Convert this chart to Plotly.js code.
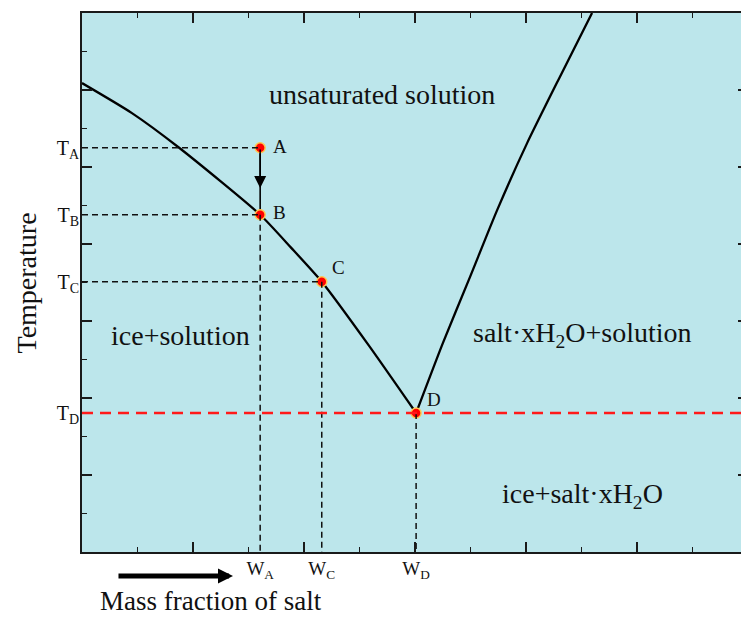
<!DOCTYPE html>
<html>
<head>
<meta charset="utf-8">
<script src="https://cdn.plot.ly/plotly-3.0.1.min.js"></script>
<style>
  html, body { margin: 0; padding: 0; overflow: hidden; background: #ffffff; }
  #chart { width: 750px; height: 617px; }
</style>
</head>
<body>
<div id="chart"></div>
<script>
// Phase diagram of a salt–water system (arbitrary units on both axes)

// Named points on the diagram
const pointNames = ['A', 'B', 'C', 'D'];
const pointW = [3.21, 3.21, 4.32, 6.02];   // mass fraction of salt
const pointT = [5.25, 4.38, 3.51, 1.805];  // temperature

// Ice liquidus (freezing-point curve), ending at the eutectic D
const iceLineW = [0, 0.9, 1.75, 3.21, 3.77, 4.32, 5.17, 6.02];
const iceLineT = [6.09, 5.70, 5.25, 4.38, 3.95, 3.51, 2.68, 1.805];

// Salt hydrate solubility curve, rising from D
const saltLineW = [6.02, 6.50, 6.99, 7.48, 8.02, 8.61, 9.19];
const saltLineT = [1.805, 2.71, 3.57, 4.44, 5.31, 6.17, 7.0];

// Axis ranges and labelled ticks
const wRange = [0, 12];
const tRange = [0, 7];
const wTickText = ['W<sub>A</sub>', 'W<sub>C</sub>', 'W<sub>D</sub>'];
const tTickText = ['T<sub>A</sub>', 'T<sub>B</sub>', 'T<sub>C</sub>', 'T<sub>D</sub>'];

// Region names
const regionNames = ['unsaturated solution', 'ice+solution',
  'salt\u00B7xH<sub>2</sub>O+solution', 'ice+salt\u00B7xH<sub>2</sub>O'];
const regionW = [5.41, 1.78, 9.01, 9.01];
const regionT = [5.94, 2.81, 2.82, 0.74];

const SERIF = 'Liberation Serif, Times New Roman, serif';
const [wA, wB, wC, wD] = pointW;
const [tA, tB, tC, tD] = pointT;

// Black dashed guide lines from the points to the axes
const guideX = [0, wA, null, 0, wB, null, 0, wC, null, wB, wB, null, wC, wC, null, wD, wD];
const guideY = [tA, tA, null, tB, tB, null, tC, tC, null, tB, 0, null, tC, 0, null, tD, 0];

const traces = [
  {
    x: guideX, y: guideY, xaxis: 'x2', yaxis: 'y2',
    mode: 'lines', line: { color: '#111', width: 1.5, dash: '6px,4px' },
    hoverinfo: 'skip', showlegend: false
  },
  {
    // eutectic temperature
    x: wRange, y: [tD, tD], xaxis: 'x2', yaxis: 'y2',
    mode: 'lines', line: { color: '#ff1a1a', width: 2.5, dash: '11px,7px' },
    hoverinfo: 'skip', showlegend: false
  },
  {
    x: iceLineW, y: iceLineT,
    mode: 'lines', line: { color: '#000', width: 2.3, shape: 'spline', smoothing: 0.6 },
    showlegend: false
  },
  {
    x: saltLineW, y: saltLineT,
    mode: 'lines', line: { color: '#000', width: 2.3, shape: 'spline', smoothing: 0.6 },
    showlegend: false
  },
  {
    // cooling path A -> B
    x: [wA, wB], y: [tA, tB],
    mode: 'lines', line: { color: '#000', width: 1.6 },
    hoverinfo: 'skip', showlegend: false
  },
  {
    x: pointW, y: pointT, text: pointNames,
    mode: 'markers',
    marker: { color: '#ff0000', size: 10, line: { color: '#ffc850', width: 1.5 } },
    showlegend: false
  }
];

// Labels next to each point
const pointShift = [[11, 1], [11, 2], [8, 14], [9, 14]];
const annotations = pointNames.map((name, i) => ({
  x: pointW[i], y: pointT[i], text: name, showarrow: false,
  xanchor: 'left', yanchor: 'middle',
  xshift: pointShift[i][0], yshift: pointShift[i][1],
  font: { family: SERIF, size: 19, color: '#111' }
}));

regionNames.forEach((name, i) => annotations.push({
  x: regionW[i], y: regionT[i], text: name, showarrow: false,
  xanchor: 'center', yanchor: 'middle',
  font: { family: SERIF, size: 28, color: '#111' }
}));

// Arrowhead part-way down the cooling path
annotations.push({
  x: wA, y: tA - 0.6 * (tA - tB), ax: 0, ay: -40, text: '',
  showarrow: true, arrowhead: 2, arrowsize: 1.6, arrowwidth: 1.5, arrowcolor: '#000',
  standoff: 0, startstandoff: 0
});

// Axis titles and the "increasing salt" arrow
annotations.push({
  xref: 'paper', yref: 'paper', x: -0.0826, y: 0.50,
  text: 'Temperature', textangle: -90, showarrow: false,
  xanchor: 'center', yanchor: 'middle',
  font: { family: SERIF, size: 28, color: '#111' }
});
annotations.push({
  xref: 'paper', yref: 'paper', x: 0.1937, y: -0.1185,
  text: 'Mass fraction of salt', showarrow: false,
  xanchor: 'center', yanchor: 'bottom', height: 27, valign: 'middle',
  font: { family: SERIF, size: 27, color: '#111' }
});
annotations.push({
  xref: 'paper', yref: 'paper', x: 0.2267, y: -0.0445,
  ax: -116, ay: 0, text: '', showarrow: true,
  arrowhead: 2, arrowsize: 0.6, arrowwidth: 5, arrowcolor: '#000',
  standoff: 0, startstandoff: 0
});

const tickAxis = {
  showgrid: false, zeroline: false, showticklabels: false,
  showline: true, linecolor: '#1a1a1a', linewidth: 2, mirror: 'ticks',
  ticks: 'inside', ticklen: 10, tickwidth: 1.5, tickcolor: '#1a1a1a',
  minor: { ticks: 'inside', ticklen: 5, tickwidth: 1.5, tickcolor: '#1a1a1a' }
};

const layout = {
  width: 750, height: 617,
  margin: { l: 82, r: 2, t: 13, b: 65 },
  paper_bgcolor: '#ffffff',
  plot_bgcolor: '#bce6eb',
  showlegend: false,
  xaxis: Object.assign({}, tickAxis, {
    range: wRange, dtick: 2, tick0: 0,
    minor: Object.assign({}, tickAxis.minor, { dtick: 1 })
  }),
  yaxis: Object.assign({}, tickAxis, {
    range: tRange, dtick: 1, tick0: 0,
    minor: Object.assign({}, tickAxis.minor, { dtick: 0.5 })
  }),
  xaxis2: {
    overlaying: 'x', anchor: 'y2', side: 'bottom', range: wRange,
    showgrid: false, zeroline: false, showline: false, ticks: '',
    tickmode: 'array', tickvals: [wA, wC, wD], ticktext: wTickText,
    ticklabelstandoff: 3,
    tickfont: { family: SERIF, size: 19, color: '#111' }
  },
  yaxis2: {
    overlaying: 'y', anchor: 'x2', side: 'left', range: tRange,
    showgrid: false, zeroline: false, showline: false, ticks: '',
    tickmode: 'array', tickvals: [tA, tB, tC, tD], ticktext: tTickText,
    ticklabelstandoff: 2,
    tickfont: { family: SERIF, size: 20, color: '#111' }
  },
  annotations: annotations
};

Plotly.newPlot('chart', traces, layout, { staticPlot: true, displayModeBar: false });
</script>
</body>
</html>
